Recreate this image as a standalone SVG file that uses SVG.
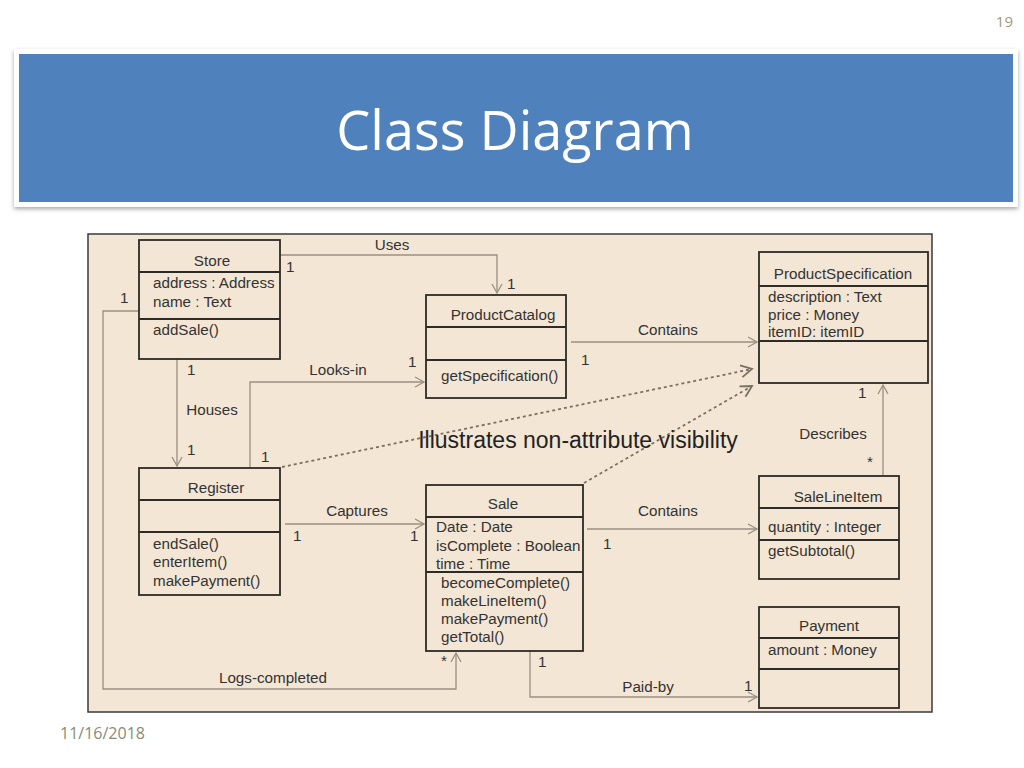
<svg xmlns="http://www.w3.org/2000/svg" width="1024" height="768" viewBox="0 0 1024 768">
<defs>
<style>
.box{fill:none;stroke:#2e2a26;stroke-width:1.8}
.div{stroke:#2e2a26;stroke-width:1.8}
.t{font-family:"Liberation Sans",Arial,sans-serif;font-size:15.2px;fill:#333}
.c{text-anchor:middle}
.con{fill:none;stroke:#9a9080;stroke-width:1.3}
.dot{fill:none;stroke:#7a7060;stroke-width:1.8;stroke-dasharray:3 3}
</style>
<marker id="arr" markerWidth="12" markerHeight="12" refX="10" refY="6" orient="auto" markerUnits="userSpaceOnUse">
<path d="M1,1 L10,6 L1,11" fill="none" stroke="#9a9080" stroke-width="1.3"/>
</marker>
<marker id="arrd" markerWidth="14" markerHeight="14" refX="12" refY="7" orient="auto" markerUnits="userSpaceOnUse">
<path d="M1,1 L12,7 L1,13" fill="none" stroke="#7a7060" stroke-width="1.8"/>
</marker>
<filter id="sh" x="-5%" y="-10%" width="110%" height="130%">
<feDropShadow dx="0" dy="2" stdDeviation="2" flood-color="#000" flood-opacity="0.35"/>
</filter>
</defs>
<rect width="1024" height="768" fill="#fff"/>
<text x="1013" y="27" font-family="'Open Sans','Noto Sans',sans-serif" font-size="15" fill="#9a9a80" text-anchor="end">19</text>
<rect x="14" y="49" width="1004" height="158" fill="#fff" filter="url(#sh)"/>
<rect x="19" y="54" width="994" height="148" fill="#4F81BD"/>
<text x="515" y="150" font-family="'Open Sans','Noto Sans',sans-serif" font-size="54" fill="#fff" text-anchor="middle">Class Diagram</text>
<text x="60" y="739" font-family="'Open Sans','Noto Sans',sans-serif" font-size="16" fill="#8a8a7a">11/16/2018</text>

<rect x="88" y="234" width="844" height="478" fill="#F4E6D5" stroke="#3a3a3a" stroke-width="1.5"/>

<g id="connectors">
<path class="con" d="M280,255 H497 V293" marker-end="url(#arr)"/>
<path class="con" d="M250,468 V382 H424" marker-end="url(#arr)"/>
<path class="con" d="M177,359 V466" marker-end="url(#arr)"/>
<path class="con" d="M139,311 H103 V689 H456 V653" marker-end="url(#arr)"/>
<path class="con" d="M571,342 H757" marker-end="url(#arr)"/>
<path class="con" d="M285,524 H424" marker-end="url(#arr)"/>
<path class="con" d="M587,529 H757" marker-end="url(#arr)"/>
<path class="con" d="M883,476 V385" marker-end="url(#arr)"/>
<path class="con" d="M530,651 V697 H757" marker-end="url(#arr)"/>
<path class="dot" d="M282,467 L752,369" marker-end="url(#arrd)"/>
<path class="dot" d="M584,483 L752,386" marker-end="url(#arrd)"/>
<g class="t">
<text x="392" y="250" class="c">Uses</text>
<text x="286" y="272">1</text>
<text x="507" y="289">1</text>
<text x="338" y="375" class="c">Looks-in</text>
<text x="408" y="367">1</text>
<text x="261" y="462">1</text>
<text x="187" y="375">1</text>
<text x="212" y="415" class="c">Houses</text>
<text x="187" y="455">1</text>
<text x="120" y="303">1</text>
<text x="273" y="683" class="c">Logs-completed</text>
<text x="441" y="666">*</text>
<text x="668" y="335" class="c">Contains</text>
<text x="581" y="365">1</text>
<text x="357" y="516" class="c">Captures</text>
<text x="293" y="541">1</text>
<text x="410" y="541">1</text>
<text x="668" y="516" class="c">Contains</text>
<text x="603" y="549">1</text>
<text x="858" y="398">1</text>
<text x="833" y="439" class="c">Describes</text>
<text x="867" y="467">*</text>
<text x="538" y="667">1</text>
<text x="648" y="692" class="c">Paid-by</text>
<text x="744" y="691">1</text>
</g>
<text x="578" y="448" font-family="'Liberation Sans',Arial,sans-serif" font-size="23" fill="#222" text-anchor="middle">Illustrates non-attribute visibility</text>
</g>

<g id="Store" class="t">
<rect class="box" x="139" y="240" width="141" height="119"/>
<line class="div" x1="139" y1="272" x2="280" y2="272"/>
<line class="div" x1="139" y1="319" x2="280" y2="319"/>
<text x="212" y="266" class="c">Store</text>
<text x="153" y="288">address : Address</text>
<text x="153" y="307">name : Text</text>
<text x="153" y="335">addSale()</text>
</g>

<g id="ProductCatalog" class="t">
<rect class="box" x="426" y="295" width="140" height="103"/>
<line class="div" x1="426" y1="327" x2="566" y2="327"/>
<line class="div" x1="426" y1="360" x2="566" y2="360"/>
<text x="503" y="320" class="c">ProductCatalog</text>
<text x="441" y="381">getSpecification()</text>
</g>

<g id="ProductSpecification" class="t">
<rect class="box" x="759" y="252" width="169" height="131"/>
<line class="div" x1="759" y1="286" x2="928" y2="286"/>
<line class="div" x1="759" y1="341" x2="928" y2="341"/>
<text x="843" y="279" class="c">ProductSpecification</text>
<text x="768" y="302">description : Text</text>
<text x="768" y="320">price : Money</text>
<text x="768" y="337">itemID: itemID</text>
</g>

<g id="Register" class="t">
<rect class="box" x="139" y="468" width="141" height="127"/>
<line class="div" x1="139" y1="500" x2="280" y2="500"/>
<line class="div" x1="139" y1="532" x2="280" y2="532"/>
<text x="216" y="493" class="c">Register</text>
<text x="153" y="549">endSale()</text>
<text x="153" y="567">enterItem()</text>
<text x="153" y="586">makePayment()</text>
</g>

<g id="Sale" class="t">
<rect class="box" x="426" y="485" width="157" height="166"/>
<line class="div" x1="426" y1="517" x2="583" y2="517"/>
<line class="div" x1="426" y1="572" x2="583" y2="572"/>
<text x="503" y="509" class="c">Sale</text>
<text x="436" y="532">Date : Date</text>
<text x="436" y="551">isComplete : Boolean</text>
<text x="436" y="569">time : Time</text>
<text x="441" y="588">becomeComplete()</text>
<text x="441" y="606">makeLineItem()</text>
<text x="441" y="624">makePayment()</text>
<text x="441" y="642">getTotal()</text>
</g>

<g id="SaleLineItem" class="t">
<rect class="box" x="759" y="476" width="140" height="103"/>
<line class="div" x1="759" y1="508" x2="899" y2="508"/>
<line class="div" x1="759" y1="540" x2="899" y2="540"/>
<text x="838" y="502" class="c">SaleLineItem</text>
<text x="768" y="532">quantity : Integer</text>
<text x="768" y="556">getSubtotal()</text>
</g>

<g id="Payment" class="t">
<rect class="box" x="759" y="607" width="140" height="101"/>
<line class="div" x1="759" y1="638" x2="899" y2="638"/>
<line class="div" x1="759" y1="669" x2="899" y2="669"/>
<text x="829" y="631" class="c">Payment</text>
<text x="768" y="655">amount : Money</text>
</g>
</svg>
